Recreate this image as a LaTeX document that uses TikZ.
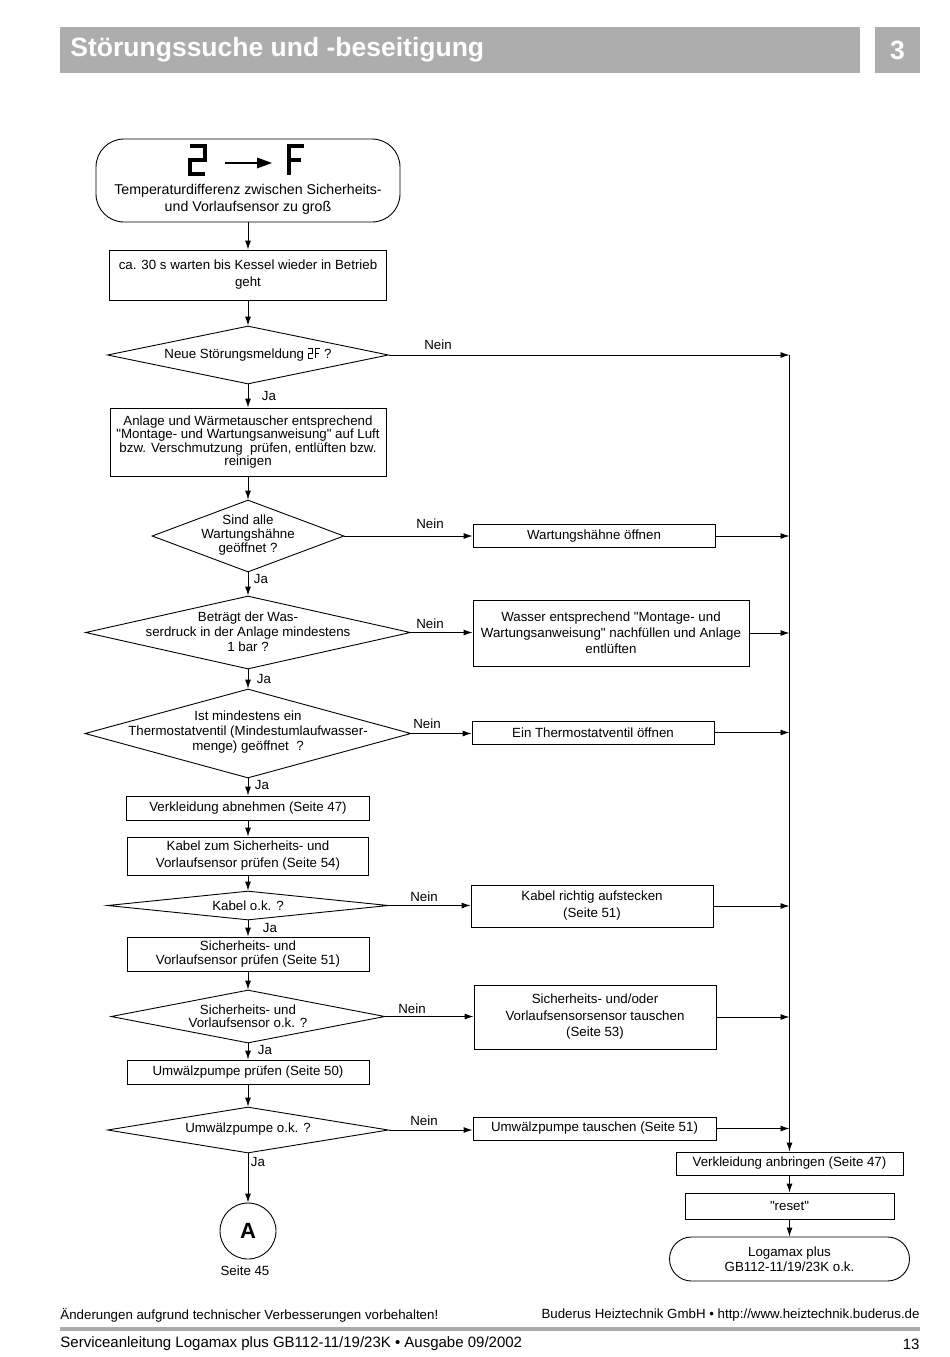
\documentclass[tikz,border=0pt]{standalone}
\usepackage{fontspec}
\setmainfont{Liberation Sans}[Ligatures=TeXOff]
\usetikzlibrary{shapes.geometric, arrows.meta}

\definecolor{headgray}{RGB}{173,173,173}

\newcommand{\bodyfont}{\fontsize{13.3}{15}\selectfont}
\newcommand{\smalltwoF}{\tikz[baseline=0pt, x=1pt, y=1pt, line width=1.1pt]{%
    \draw (0,9.5) -- (4.5,9.5) -- (4.5,4.75) -- (0,4.75) -- (0,0) -- (4.5,0);
    \draw (7,0) -- (7,9.5) -- (11.5,9.5) (7,4.75) -- (11,4.75);}}

\tikzstyle{startstop} = [
    rectangle,
    rounded corners=28pt,
    draw=black
]
\tikzstyle{process} = [
    rectangle,
    minimum height=24pt,
    inner sep=2pt,
    align=center,
    draw=black
]
\tikzstyle{decision} = [
    diamond,
    inner sep=0pt,
    draw=black
]
\tikzstyle{txt} = [align=center, yshift=-1.5pt]
\tikzstyle{lbl} = [inner sep=0pt]
\tikzstyle{seg} = [line width=3.6pt, line join=miter]
\tikzstyle{arrow} = [->,>={Latex[length=9pt,width=6pt]}]

\begin{document}
\begin{tikzpicture}[x=1pt, y=-1pt, line width=0.9pt, font=\bodyfont]

\useasboundingbox (0,0) rectangle (950,1357);

% header
\fill[headgray] (60,27) rectangle (860,73);
\fill[headgray] (875,27) rectangle (920,73);
\node (title) [anchor=west, inner sep=0pt, text=white, font=\fontsize{26.5}{26.5}\selectfont\bfseries] at (70,50)
{Störungssuche und -beseitigung};
\node (chapter) [text=white, font=\fontsize{26.5}{26.5}\selectfont\bfseries] at (897.5,50) {3};

% start with display 2 -> F
\node (start) [startstop, minimum width=304, minimum height=83] at (248,180.5) {};
\draw [seg] (190,146) -- (205,146) -- (205,160) -- (190,160) -- (190,174) -- (205,174);
\draw [line width=2.2pt] (225,163) -- (259,163);
\fill (257,157.5) -- (272,163) -- (257,168.5) -- cycle;
\draw [seg] (289,175) -- (289,146) -- (304,146);
\draw [seg] (289,160) -- (301,160);
\node (starttext) [txt, font=\fontsize{14.2}{17}\selectfont] at (248,197.5)
{Temperaturdifferenz zwischen Sicherheits-\\und Vorlaufsensor zu groß};

\node (wait) [process, minimum width=277, minimum height=50, font=\fontsize{13.3}{17}\selectfont] at (248,275)
{ca. 30 s warten bis Kessel wieder in Betrieb\\geht};

\node (dec1) [decision, minimum width=281, minimum height=58] at (248,355) {};
\node (dec1text) [txt] at (248,353) {Neue Störungsmeldung \smalltwoF\ ?};

\node (clean) [process, minimum width=276, minimum height=68, font=\fontsize{13.3}{13.3}\selectfont] at (248,442)
{Anlage und Wärmetauscher entsprechend\\"Montage- und Wartungsanweisung" auf Luft\\bzw. Verschmutzung\ \ prüfen, entlüften bzw.\\reinigen};

\node (dec2) [decision, minimum width=192, minimum height=72] at (248,536) {};
\node (dec2text) [txt, font=\fontsize{13.3}{14}\selectfont] at (248,534)
{Sind alle\\Wartungshähne\\geöffnet ?};
\node (open1) [process, minimum width=242, minimum height=23] at (594,536) {Wartungshähne öffnen};

\node (dec3) [decision, minimum width=325, minimum height=73] at (248,632.5) {};
\node (dec3text) [txt] at (248,630)
{Beträgt der Was-\\serdruck in der Anlage mindestens\\1 bar ?};
\node (refill) [process, minimum width=276, minimum height=66, font=\fontsize{13.3}{16}\selectfont] at (611,633)
{Wasser entsprechend "Montage- und\\Wartungsanweisung" nachfüllen und Anlage\\entlüften};

\node (dec4) [decision, minimum width=326, minimum height=89] at (248,733.5) {};
\node (dec4text) [txt] at (248,731)
{Ist mindestens ein\\Thermostatventil (Mindestumlaufwasser-\\menge) geöffnet\ \ ?};
\node (open2) [process, minimum width=242, minimum height=23] at (593,732.5) {Ein Thermostatventil öffnen};

\node (cover1) [process, minimum width=243, minimum height=24] at (248,808) {Verkleidung abnehmen (Seite 47)};

\node (cable) [process, minimum width=241, minimum height=38, font=\fontsize{13.3}{17}\selectfont] at (248,856)
{Kabel zum Sicherheits- und\\Vorlaufsensor prüfen (Seite 54)};

\node (dec5) [decision, minimum width=281, minimum height=29] at (248,905.5) {};
\node (dec5text) [txt] at (248,904) {Kabel o.k. ?};
\node (plug) [process, minimum width=242, minimum height=42, font=\fontsize{13.3}{17}\selectfont] at (592,906)
{Kabel richtig aufstecken\\(Seite 51)};

\node (sensor) [process, minimum width=242, minimum height=34, font=\fontsize{13.3}{14}\selectfont] at (248,954)
{Sicherheits- und\\Vorlaufsensor prüfen (Seite 51)};

\node (dec6) [decision, minimum width=274, minimum height=53] at (248,1016.5) {};
\node (dec6text) [txt, font=\fontsize{13.3}{13}\selectfont] at (248,1014.5)
{Sicherheits- und\\Vorlaufsensor o.k. ?};
\node (swap1) [process, minimum width=242, minimum height=64, font=\fontsize{13.3}{16.5}\selectfont] at (595,1017)
{Sicherheits- und/oder\\Vorlaufsensorsensor tauschen\\(Seite 53)};

\node (pump) [process, minimum width=242, minimum height=24] at (248,1072) {Umwälzpumpe prüfen (Seite 50)};

\node (dec7) [decision, minimum width=281, minimum height=46] at (248,1130) {};
\node (dec7text) [txt] at (248,1128) {Umwälzpumpe o.k. ?};
\node (swap2) [process, minimum width=243, minimum height=23] at (594.5,1128.5) {Umwälzpumpe tauschen (Seite 51)};

\node (conA) [circle, draw=black, minimum size=56, inner sep=0pt, font=\fontsize{22}{22}\selectfont\bfseries] at (248,1231) {A};
\node (page45) [txt] at (245,1269) {Seite 45};

\node (cover2) [process, minimum width=227, minimum height=23] at (789.5,1163.5) {Verkleidung anbringen (Seite 47)};
\node (reset) [process, minimum width=209, minimum height=26] at (789.5,1206) {"reset"};
\node (done) [startstop, rounded corners=22pt, minimum width=240, minimum height=44, align=center] at (789.5,1259)
{Logamax plus\\GB112-11/19/23K o.k.};

\coordinate (bus) at (789.5,355);

% Ja / Nein
\node (ja1) [lbl] at (269,396) {Ja};
\node (ja2) [lbl] at (261,579) {Ja};
\node (ja3) [lbl] at (264,679) {Ja};
\node (ja4) [lbl] at (262,785) {Ja};
\node (ja5) [lbl] at (270,928) {Ja};
\node (ja6) [lbl] at (265,1050) {Ja};
\node (ja7) [lbl] at (258,1162) {Ja};
\node (nein1) [lbl] at (438,345) {Nein};
\node (nein2) [lbl] at (430,524) {Nein};
\node (nein3) [lbl] at (430,624) {Nein};
\node (nein4) [lbl] at (427,724) {Nein};
\node (nein5) [lbl] at (424,897) {Nein};
\node (nein6) [lbl] at (412,1009) {Nein};
\node (nein7) [lbl] at (424,1121) {Nein};

% main column
\draw [arrow] (start) -- (wait);
\draw [arrow] (wait) -- (dec1);
\draw [arrow] (dec1) -- (clean);
\draw [arrow] (clean) -- (dec2);
\draw [arrow] (dec2) -- (dec3);
\draw [arrow] (dec3) -- (dec4);
\draw [arrow] (dec4) -- (cover1);
\draw [arrow] (cover1) -- (cable);
\draw [arrow] (cable) -- (dec5);
\draw [arrow] (dec5) -- (sensor);
\draw [arrow] (sensor) -- (dec6);
\draw [arrow] (dec6) -- (pump);
\draw [arrow] (pump) -- (dec7);
\draw [arrow] (dec7) -- (conA);

% Nein branches
\draw [arrow] (dec1.east) -- (bus);
\draw [arrow] (dec2.east) -- (dec2.east -| open1.west);
\draw [arrow] (dec3.east) -- (dec3.east -| refill.west);
\draw [arrow] (dec4.east) -- (dec4.east -| open2.west);
\draw [arrow] (dec5.east) -- (dec5.east -| plug.west);
\draw [arrow] (dec6.east) -- (dec6.east -| swap1.west);
\draw [arrow] (dec7.east) -- (dec7.east -| swap2.west);

\draw [arrow] (open1.east) -- (open1.east -| bus);
\draw [arrow] (refill.east) -- (refill.east -| bus);
\draw [arrow] (open2.east) -- (open2.east -| bus);
\draw [arrow] (plug.east) -- (plug.east -| bus);
\draw [arrow] (swap1.east) -- (swap1.east -| bus);
\draw [arrow] (swap2.east) -- (swap2.east -| bus);

% right column
\draw [arrow] (bus) -- (cover2);
\draw [arrow] (cover2) -- (reset);
\draw [arrow] (reset) -- (done);

% footer
\node (note) [anchor=west, inner sep=0pt] at (60,1315) {Änderungen aufgrund technischer Verbesserungen vorbehalten!};
\node (company) [anchor=east, inner sep=0pt] at (920,1315) {Buderus Heiztechnik GmbH • http://www.heiztechnik.buderus.de};
\fill[headgray] (60,1327) rectangle (920,1331);
\node (manual) [anchor=west, inner sep=0pt, font=\fontsize{15}{15}\selectfont] at (60,1344)
{Serviceanleitung Logamax plus GB112-11/19/23K • Ausgabe 09/2002};
\node (pageno) [anchor=east, inner sep=0pt, font=\fontsize{15}{15}\selectfont] at (920,1344) {13};

\end{tikzpicture}
\end{document}
